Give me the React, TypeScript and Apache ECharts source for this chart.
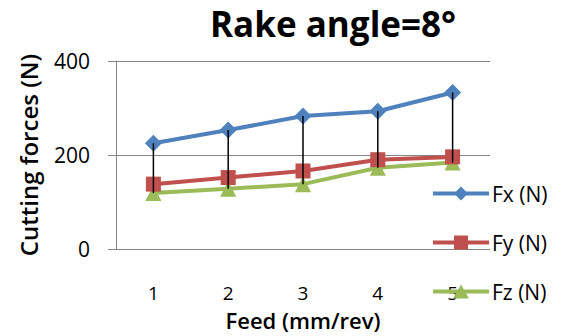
import React, { useEffect, useRef } from "react";
import * as echarts from "echarts";

const categories = ["1", "2", "3", "4", "5"];
const fxValues = [225, 253, 283, 293, 333];
const fyValues = [138, 152, 166, 190, 196];
const fzValues = [119, 128, 138, 173, 184];
const yTicks = { min: 0, max: 400, interval: 200 };
const seriesNames = ["Fx (N)", "Fy (N)", "Fz (N)"];

const FONT = "'Open Sans', sans-serif";

const LINE_BAR = "M0,6 L56,6 L56,10 L0,10 Z";
const ICONS = [
  "path://" + LINE_BAR + " M28,1 L35,8 L28,15 L21,8 Z",
  "path://" + LINE_BAR + " M21,1 L35,1 L35,15 L21,15 Z",
  "path://" + LINE_BAR + " M28,1 L36,15 L20,15 Z",
];

export default function App() {
  const ref = useRef<HTMLDivElement>(null);
  useEffect(() => {
    if (!ref.current) return;
    const chart = echarts.init(ref.current, undefined, { renderer: "svg" });
    const hiLo = categories.map((_, i) => [
      i,
      Math.max(fxValues[i], fyValues[i], fzValues[i]),
      Math.min(fxValues[i], fyValues[i], fzValues[i]),
    ]);
    chart.setOption({
      animation: false,
      backgroundColor: "#ffffff",
      textStyle: { fontFamily: FONT },
      title: {
        text: "Rake angle=8°",
        left: 210,
        top: 3,
        padding: 0,
        textStyle: { fontFamily: FONT, fontSize: 35, fontWeight: "bold", color: "#000", lineHeight: 40 },
      },
      legend: {
        orient: "vertical",
        left: 428,
        top: 178,
        itemWidth: 56,
        itemHeight: 16,
        itemGap: 28,
        data: seriesNames.map((n, i) => ({ name: n, icon: ICONS[i] })),
        textStyle: { fontFamily: FONT, fontSize: 21, color: "#000", padding: [0, 0, 0, -2] },
      },
      grid: { left: 116, right: 75, top: 61, bottom: 83, containLabel: false },
      xAxis: {
        type: "category",
        data: categories,
        boundaryGap: true,
        axisLine: { show: false },
        axisTick: { show: false },
        axisLabel: { margin: 34, fontSize: 19, color: "#000", fontFamily: FONT },
        name: "Feed (mm/rev)",
        nameLocation: "middle",
        nameGap: 60,
        nameTextStyle: { fontSize: 22, fontWeight: 600, color: "#000", fontFamily: FONT },
      },
      yAxis: {
        type: "value",
        min: yTicks.min,
        max: yTicks.max,
        interval: yTicks.interval,
        axisLine: { show: true, lineStyle: { color: "#868686", width: 1 } },
        axisTick: { show: true, inside: false, length: 8, lineStyle: { color: "#868686" } },
        splitLine: { show: true, lineStyle: { color: "#868686", width: 1 } },
        axisLabel: { margin: 26, fontSize: 21, color: "#000", fontFamily: FONT },
        name: "Cutting forces (N)",
        nameLocation: "middle",
        nameGap: 76,
        nameRotate: 90,
        nameTextStyle: { fontSize: 24, fontWeight: 600, color: "#000", fontFamily: FONT },
      },
      series: [
        {
          name: seriesNames[0],
          type: "line",
          data: fxValues,
          symbol: "diamond",
          symbolSize: 17,
          lineStyle: { color: "#4F81BD", width: 4 },
          itemStyle: { color: "#4F81BD" },
          z: 3,
        },
        {
          name: seriesNames[1],
          type: "line",
          data: fyValues,
          symbol: "rect",
          symbolSize: 15,
          lineStyle: { color: "#C0504D", width: 4 },
          itemStyle: { color: "#C0504D" },
          z: 2,
        },
        {
          name: seriesNames[2],
          type: "line",
          data: fzValues,
          symbol: "triangle",
          symbolSize: 16,
          lineStyle: { color: "#9BBB59", width: 4 },
          itemStyle: { color: "#9BBB59" },
          z: 1,
        },
        {
          name: "hilo",
          type: "custom",
          data: hiLo,
          z: 10,
          silent: true,
          renderItem: (params: any, api: any) => {
            const x = api.value(0);
            const p1 = api.coord([x, api.value(1)]);
            const p2 = api.coord([x, api.value(2)]);
            return {
              type: "line",
              shape: { x1: p1[0], y1: p1[1], x2: p2[0], y2: p2[1] },
              style: { stroke: "#000", lineWidth: 1.5 },
            };
          },
        },
      ],
    });
    return () => chart.dispose();
  }, []);
  return <div ref={ref} style={{ width: 565, height: 336, position: "absolute", left: 0, top: 0 }} />;
}
